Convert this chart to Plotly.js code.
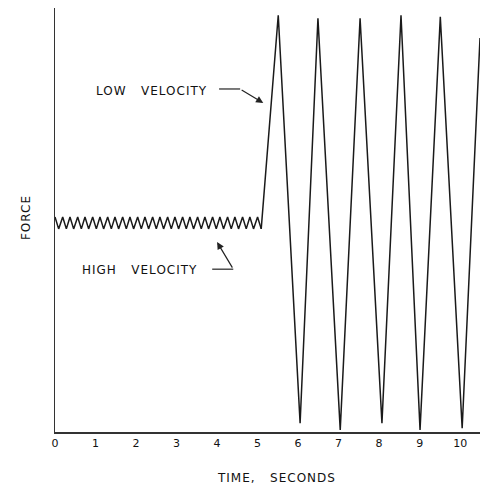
<!DOCTYPE html>
<html>
<head>
<meta charset="utf-8">
<script src="https://cdn.plot.ly/plotly-3.0.1.min.js"></script>
<style>html,body{margin:0;padding:0;background:#fff;}#chart{width:480px;height:485px;}</style>
</head>
<body>
<div id="chart"></div>
<script>
// High velocity: small saw-tooth oscillation (time in s, force in relative units)
const highTime = [0,0.09,0.19,0.28,0.37,0.46,0.56,0.65,0.74,0.83,0.93,1.02,1.11,1.20,1.30,1.39,1.48,1.57,1.67,1.76,1.85,1.94,2.04,2.13,2.22,2.31,2.41,2.50,2.59,2.68,2.78,2.87,2.96,3.05,3.15,3.24,3.33,3.42,3.52,3.61,3.70,3.79,3.89,3.98,4.07,4.16,4.26,4.35,4.44,4.53,4.63,4.72,4.81,4.90,5.00,5.09];
const highForce = [50.7,47.9,50.7,47.9,50.7,47.9,50.7,47.9,50.7,47.9,50.7,47.9,50.7,47.9,50.7,47.9,50.7,47.9,50.7,47.9,50.7,47.9,50.7,47.9,50.7,47.9,50.7,47.9,50.7,47.9,50.7,47.9,50.7,47.9,50.7,47.9,50.7,47.9,50.7,47.9,50.7,47.9,50.7,47.9,50.7,47.9,50.7,47.9,50.7,47.9,50.7,47.9,50.7,47.9,50.7,47.9];
// Low velocity: large stick-slip oscillation
const lowTime = [5.09,5.51,6.05,6.49,7.04,7.53,8.07,8.54,9.01,9.51,10.05,10.49];
const lowForce = [47.9,98.3,2.1,97.6,0.5,97.6,2.1,98.3,0.5,97.9,0.9,92.9];
const tickVals = [0,1,2,3,4,5,6,7,8,9,10];
const tickText = ["0","1","2","3","4","5","6","7","8","9","10"];
const labelLow = "LOW&nbsp;&nbsp;&nbsp;VELOCITY";
const labelHigh = "HIGH&nbsp;&nbsp;&nbsp;VELOCITY";
const xTitle = "TIME,&nbsp;&nbsp;&nbsp;SECONDS";
const yTitle = "FORCE";

const lineStyle = {color:'#1a1a1a', width:1.5};
const traces = [
  {x: highTime, y: highForce, mode:'lines', line: lineStyle, hoverinfo:'skip'},
  {x: lowTime, y: lowForce, mode:'lines', line: lineStyle, hoverinfo:'skip'}
];
const fontTxt = {family:'DejaVu Sans', size:12, color:'#111'};
const sp = (t)=>'<span style="letter-spacing:1px">'+t+'</span>';
const layout = {
  width:480, height:485,
  margin:{l:55, r:0, t:8, b:53},
  paper_bgcolor:'#fff', plot_bgcolor:'#fff',
  showlegend:false,
  xaxis:{range:[0,10.49], showgrid:false, zeroline:false, showline:true, linecolor:'#333', linewidth:1.5,
    tickmode:'array', tickvals:tickVals, ticktext:tickText, ticks:'', tickfont:{family:'DejaVu Sans', size:11, color:'#111'}, fixedrange:true},
  yaxis:{range:[0,100], showgrid:false, zeroline:false, showline:true, linecolor:'#333', linewidth:1.5,
    showticklabels:false, ticks:'', fixedrange:true},
  shapes:[
    {type:'line', xref:'x', yref:'y', x0:4.05, x1:4.57, y0:80.9, y1:80.9, line:{color:'#222', width:1.2}},
    {type:'line', xref:'x', yref:'y', x0:3.88, x1:4.40, y0:38.4, y1:38.4, line:{color:'#222', width:1.2}}
  ],
  annotations:[
    {x:2.38, y:80.4, xref:'x', yref:'y', text:sp(labelLow), showarrow:false, font:fontTxt},
    {x:2.09, y:38.2, xref:'x', yref:'y', text:sp(labelHigh), showarrow:false, font:fontTxt},
    {x:5.14, y:77.6, xref:'x', yref:'y', ax:4.57, ay:80.9, axref:'x', ayref:'y', text:'', showarrow:true, arrowhead:2, arrowsize:1.2, arrowwidth:1.2, arrowcolor:'#222'},
    {x:4.0, y:44.8, xref:'x', yref:'y', ax:4.40, ay:38.4, axref:'x', ayref:'y', text:'', showarrow:true, arrowhead:2, arrowsize:1.2, arrowwidth:1.2, arrowcolor:'#222'},
    {x:0.522, y:-0.108, xref:'paper', yref:'paper', text:sp(xTitle), showarrow:false, font:fontTxt, yanchor:'middle'},
    {x:-0.089, y:0.505, xref:'paper', yref:'paper', text:sp(yTitle), showarrow:false, font:fontTxt, textangle:-90}
  ]
};
Plotly.newPlot('chart', traces, layout, {staticPlot:true, displayModeBar:false});
</script>
</body>
</html>
